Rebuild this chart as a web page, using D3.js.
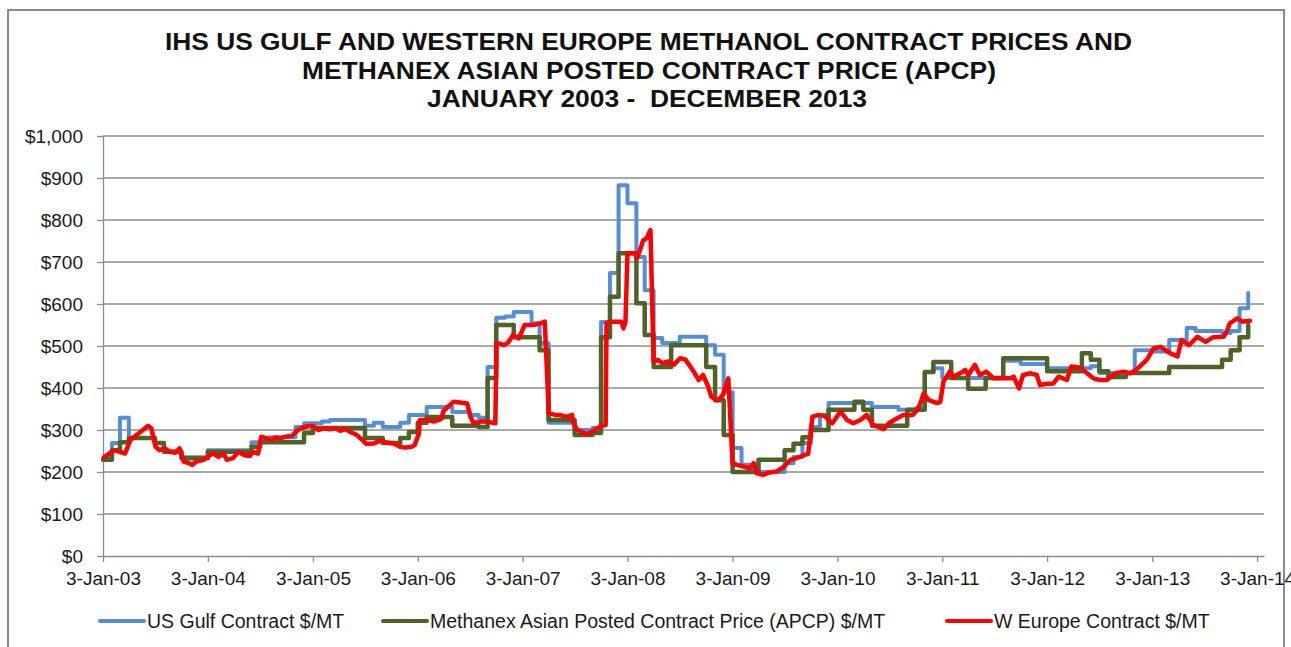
<!DOCTYPE html>
<html>
<head>
<meta charset="utf-8">
<script src="https://cdn.jsdelivr.net/npm/d3@7"></script>
<style>
body { margin: 0; background: #fff; }
svg { display: block; }
</style>
</head>
<body>
<div id="chart"></div>
<script>
// Methanol contract prices, Jan 2003 - Dec 2013

const titleLines = [
	'IHS US GULF AND WESTERN EUROPE METHANOL CONTRACT PRICES AND',
	'METHANEX ASIAN POSTED CONTRACT PRICE (APCP)',
	'JANUARY 2003 -  DECEMBER 2013'
]

const yTicks = [0, 100, 200, 300, 400, 500, 600, 700, 800, 900, 1000]
const xTickYears = [2003, 2004, 2005, 2006, 2007, 2008, 2009, 2010, 2011, 2012, 2013, 2014]

const seriesNames = [
	'US Gulf Contract $/MT',
	'Methanex Asian Posted Contract Price (APCP) $/MT',
	'W Europe Contract $/MT'
]
const seriesColors = ['#558ed5', '#4f6228', '#ff0000']

// monthly contract prices, one value per month from Jan 2003
const gulfValues = [
	233, 269, 329, 281, 281, 281, 269, 248, 248, 235, 235, 235,
	252, 252, 252, 252, 252, 271, 271, 283, 283, 283, 307, 316,
	316, 320, 324, 324, 324, 324, 310, 317, 307, 307, 317, 336,
	336, 355, 355, 355, 343, 343, 336, 329, 450, 567, 570, 581,
	581, 554, 507, 317, 317, 317, 300, 300, 305, 557, 674, 883,
	840, 712, 633, 519, 507, 507, 522, 522, 522, 502, 479, 390,
	257, 217, 217, 200, 200, 200, 221, 236, 269, 307, 336, 364,
	364, 364, 364, 364, 355, 355, 355, 348, 348, 352, 438, 447,
	424, 424, 424, 424, 424, 424, 424, 465, 465, 457, 457, 457,
	447, 447, 447, 447, 447, 452, 436, 436, 436, 436, 490, 490,
	487, 487, 514, 514, 543, 536, 536, 536, 531, 536, 590, 626
]

const apcpValues = [
	229, 252, 271, 281, 281, 281, 269, 248, 248, 233, 233, 233,
	248, 248, 248, 248, 248, 260, 271, 271, 271, 271, 271, 293,
	305, 305, 305, 305, 305, 305, 281, 281, 269, 269, 281, 295,
	317, 331, 331, 331, 310, 310, 310, 307, 424, 550, 550, 521,
	521, 521, 490, 324, 324, 324, 288, 288, 293, 521, 617, 721,
	721, 602, 526, 450, 450, 502, 502, 502, 502, 450, 371, 288,
	200, 200, 200, 229, 229, 229, 252, 267, 283, 300, 300, 348,
	348, 348, 367, 348, 310, 310, 310, 310, 348, 348, 438, 462,
	462, 424, 424, 398, 398, 424, 424, 471, 471, 471, 471, 471,
	440, 440, 440, 440, 483, 467, 440, 426, 426, 436, 436, 436,
	436, 436, 450, 450, 450, 450, 450, 450, 467, 490, 521, 550
]

// W Europe contract, read at irregular dates (decimal years)
const redYears = [
	2003.01, 2003.07, 2003.11, 2003.16, 2003.21, 2003.26, 2003.32, 2003.38, 2003.43, 2003.46,
	2003.50, 2003.54, 2003.59, 2003.64, 2003.69, 2003.73, 2003.77, 2003.81, 2003.85, 2003.89,
	2003.96, 2004.02, 2004.05, 2004.10, 2004.15, 2004.18, 2004.24, 2004.29, 2004.35, 2004.40,
	2004.43, 2004.48, 2004.51, 2004.56, 2004.61, 2004.64, 2004.69, 2004.74, 2004.80, 2004.86,
	2004.93, 2005.00, 2005.05, 2005.10, 2005.16, 2005.21, 2005.26, 2005.31, 2005.35, 2005.42,
	2005.47, 2005.51, 2005.58, 2005.64, 2005.70, 2005.77, 2005.83, 2005.88, 2005.94, 2005.97,
	2006.01, 2006.02, 2006.09, 2006.15, 2006.20, 2006.23, 2006.24, 2006.29, 2006.34, 2006.42,
	2006.47, 2006.50, 2006.53, 2006.59, 2006.66, 2006.74, 2006.75, 2006.78, 2006.82, 2006.86,
	2006.91, 2006.96, 2006.99, 2007.02, 2007.10, 2007.17, 2007.21, 2007.25, 2007.31, 2007.36,
	2007.40, 2007.44, 2007.47, 2007.48, 2007.52, 2007.56, 2007.61, 2007.66, 2007.71, 2007.75,
	2007.79, 2007.80, 2007.83, 2007.94, 2007.96, 2007.98, 2008.00, 2008.07, 2008.09, 2008.12,
	2008.15, 2008.18, 2008.22, 2008.25, 2008.29, 2008.33, 2008.39, 2008.44, 2008.50, 2008.55,
	2008.60, 2008.64, 2008.68, 2008.72, 2008.77, 2008.80, 2008.85, 2008.88, 2008.91, 2008.96,
	2009.00, 2009.04, 2009.10, 2009.17, 2009.20, 2009.23, 2009.29, 2009.34, 2009.42, 2009.49,
	2009.55, 2009.61, 2009.69, 2009.72, 2009.76, 2009.82, 2009.88, 2009.95, 2010.03, 2010.09,
	2010.15, 2010.22, 2010.28, 2010.34, 2010.44, 2010.49, 2010.57, 2010.63, 2010.72, 2010.76,
	2010.79, 2010.82, 2010.87, 2010.95, 2010.98, 2011.01, 2011.07, 2011.11, 2011.17, 2011.22,
	2011.25, 2011.31, 2011.36, 2011.42, 2011.49, 2011.55, 2011.65, 2011.68, 2011.73, 2011.77,
	2011.84, 2011.90, 2011.93, 2012.00, 2012.06, 2012.11, 2012.19, 2012.23, 2012.31, 2012.38,
	2012.44, 2012.50, 2012.57, 2012.65, 2012.73, 2012.79, 2012.85, 2012.95, 2013.01, 2013.08,
	2013.17, 2013.24, 2013.28, 2013.35, 2013.43, 2013.51, 2013.58, 2013.68, 2013.71, 2013.74,
	2013.81, 2013.86, 2013.93
]
const redValues = [
	235, 246, 252, 248, 244, 276, 288, 300, 310, 304,
	260, 252, 256, 248, 246, 256, 225, 222, 217, 225,
	229, 240, 244, 236, 244, 229, 233, 248, 240, 238,
	248, 244, 284, 280, 276, 282, 280, 284, 286, 300,
	308, 310, 300, 304, 302, 304, 298, 302, 296, 288,
	276, 267, 268, 274, 270, 268, 260, 258, 260, 264,
	292, 324, 324, 320, 324, 328, 344, 356, 367, 365,
	363, 332, 316, 320, 320, 316, 506, 506, 502, 508,
	526, 518, 534, 550, 550, 554, 558, 340, 336, 336,
	332, 333, 336, 320, 300, 296, 290, 296, 304, 310,
	312, 554, 558, 558, 542, 558, 721, 721, 709, 729,
	752, 756, 776, 463, 467, 459, 463, 455, 471, 468,
	451, 435, 419, 431, 403, 379, 371, 375, 383, 423,
	221, 217, 213, 209, 221, 197, 193, 198, 201, 213,
	229, 233, 241, 243, 332, 336, 333, 316, 344, 324,
	316, 324, 336, 312, 302, 316, 328, 336, 336, 348,
	364, 387, 371, 364, 367, 415, 439, 427, 435, 443,
	431, 455, 431, 439, 423, 423, 423, 427, 399, 431,
	435, 431, 407, 410, 411, 427, 419, 451, 449, 435,
	423, 419, 419, 435, 439, 435, 443, 467, 494, 498,
	483, 475, 514, 502, 522, 510, 521, 522, 534, 554,
	566, 558, 560
]

const width = 1291
const height = 647
const plotLeft = 103, plotRight = 1264, plotTop = 136, plotBottom = 556

const monthDate = i => new Date(2003, i, 3)
const yearDate = v => {
	const yr = Math.floor(v)
	return d3.timeDay.offset(new Date(yr, 0, 3), Math.round((v - yr) * 365.25))
}

const gulf = gulfValues.map((v, i) => ({ date: monthDate(i), value: v }))
const apcp = apcpValues.map((v, i) => ({ date: monthDate(i), value: v }))
const weur = redValues.map((v, i) => ({ date: yearDate(redYears[i]), value: v }))

const svg = d3.select('#chart')
	.append('svg')
	.attr('width', width)
	.attr('height', height)

// chart area frame
svg.append('rect')
	.attr('x', 8).attr('y', 10)
	.attr('width', 1276).attr('height', 700)
	.attr('fill', '#fff')
	.attr('stroke', '#8a8a8a')
	.attr('stroke-width', 2)

const xScale = d3.scaleTime()
	.domain([new Date(2003, 0, 3), new Date(2014, 0, 27)])
	.range([plotLeft, plotRight])

const yScale = d3.scaleLinear()
	.domain([0, 1000])
	.range([plotBottom, plotTop])

// title
const titleX = [165, 302, 427]
const titleW = [967, 694, 440]
const titleY = [50, 79, 107]
svg.selectAll('text.title')
	.data(titleLines)
	.enter()
	.append('text')
	.attr('class', 'title')
	.attr('x', (d, i) => titleX[i])
	.attr('y', (d, i) => titleY[i])
	.attr('textLength', (d, i) => titleW[i])
	.attr('lengthAdjust', 'spacingAndGlyphs')
	.attr('style', 'font-family: "Liberation Sans", Arial, sans-serif; font-weight: bold; font-size: 24px')
	.attr('fill', '#111')
	.attr('xml:space', 'preserve')
	.text(d => d)

// gridlines
svg.append('g')
	.selectAll('line')
	.data(yTicks.filter(d => d > 0))
	.enter()
	.append('line')
	.attr('x1', plotLeft).attr('x2', plotRight)
	.attr('y1', d => yScale(d)).attr('y2', d => yScale(d))
	.attr('stroke', '#8c8c8c')
	.attr('stroke-width', 1.3)

const tickFont = 'font-family: "Liberation Sans", Arial, sans-serif; font-size: 19px'

const yAxis = svg.append('g')
	.attr('transform', `translate(${plotLeft},0)`)
	.call(d3.axisLeft(yScale)
		.tickValues(yTicks)
		.tickFormat(d => '$' + d3.format(',')(d))
		.tickSize(6)
		.tickSizeOuter(0)
		.tickPadding(14))
yAxis.selectAll('text').attr('style', tickFont).attr('fill', '#1a1a1a')

const xAxis = svg.append('g')
	.attr('transform', `translate(0,${plotBottom})`)
	.call(d3.axisBottom(xScale)
		.tickValues(xTickYears.map(y => new Date(y, 0, 3)))
		.tickFormat(d3.timeFormat('%-d-%b-%y'))
		.tickSize(6)
		.tickSizeOuter(0)
		.tickPadding(10))
xAxis.selectAll('text').attr('style', tickFont).attr('fill', '#1a1a1a')

svg.selectAll('.domain, .tick line')
	.attr('stroke', '#8c8c8c')
	.attr('stroke-width', 1.3)

// series
const step = d3.line()
	.x(d => xScale(d.date))
	.y(d => yScale(d.value))
	.curve(d3.curveStepAfter)

const smooth = d3.line()
	.x(d => xScale(d.date))
	.y(d => yScale(d.value))

const series = [
	{ data: gulf, gen: step, w: 4 },
	{ data: apcp, gen: step, w: 4.5 },
	{ data: weur, gen: smooth, w: 4.5 }
]

svg.append('g')
	.selectAll('path')
	.data(series)
	.enter()
	.append('path')
	.attr('d', d => d.gen(d.data))
	.attr('fill', 'none')
	.attr('stroke', (d, i) => seriesColors[i])
	.attr('stroke-width', d => d.w)
	.attr('stroke-linejoin', 'round')
	.attr('stroke-linecap', 'round')

// legend
const legendX = [100, 383, 947]
const legendY = 621
const legend = svg.append('g')
	.selectAll('g')
	.data(seriesNames)
	.enter()
	.append('g')
	.attr('transform', (d, i) => `translate(${legendX[i]},${legendY})`)

legend.append('line')
	.attr('x1', 0).attr('x2', 44)
	.attr('stroke', (d, i) => seriesColors[i])
	.attr('stroke-width', 4)
	.attr('stroke-linecap', 'round')

legend.append('text')
	.attr('x', 47)
	.attr('dy', '0.35em')
	.attr('style', 'font-family: "Liberation Sans", Arial, sans-serif; font-size: 19.5px')
	.attr('fill', '#1a1a1a')
	.text(d => d)
</script>
</body>
</html>
